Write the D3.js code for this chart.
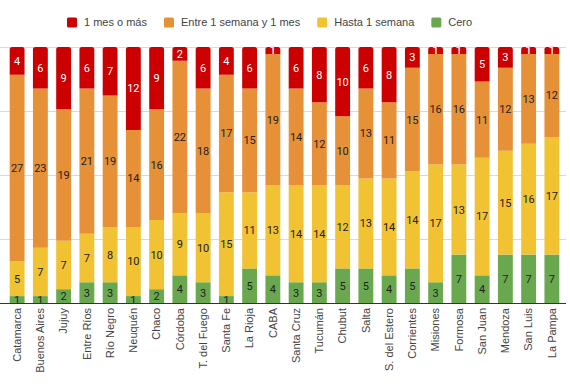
<!DOCTYPE html>
<html><head><meta charset="utf-8">
<script src="https://cdn.jsdelivr.net/npm/d3@7"></script>
<style>body{margin:0;background:#fff}svg{display:block}</style>
</head><body>
<script>
const categories = ["Catamarca","Buenos Aires","Jujuy","Entre Ríos","Río Negro","Neuquén","Chaco","Córdoba","T. del Fuego","Santa Fe","La Rioja","CABA","Santa Cruz","Tucumán","Chubut","Salta","S. del Estero","Corrientes","Misiones","Formosa","San Juan","Mendoza","San Luis","La Pampa"];
const cero    = [1,1,2,3,3,1,2,4,3,1,5,4,3,3,5,5,4,5,3,7,4,7,7,7];
const hasta   = [5,7,7,7,8,10,10,9,10,15,11,13,14,14,12,13,14,14,17,13,17,15,16,17];
const entre   = [27,23,19,21,19,14,16,22,18,17,15,19,14,12,10,13,11,15,16,16,11,12,13,12];
const unMes   = [4,6,9,6,7,12,9,2,6,4,6,1,6,8,10,6,8,3,1,1,5,3,1,1];
const seriesNames = ["Cero","Hasta 1 semana","Entre 1 semana y 1 mes","1 mes o más"];
const legendOrder = ["1 mes o más","Entre 1 semana y 1 mes","Hasta 1 semana","Cero"];
const gridTicks = [0,0.25,0.5,0.75,1];

const colors = {"Cero":"#6aa84f","Hasta 1 semana":"#f1c232","Entre 1 semana y 1 mes":"#e69138","1 mes o más":"#cc0000"};
const seriesVals = [cero,hasta,entre,unMes];

const W=570,H=392;
const svg=d3.select("body").append("svg").attr("width",W).attr("height",H);
const x=d3.scaleBand().domain(categories).range([5.5,563.5]).paddingInner(0.36).paddingOuter(0.18);
const y=d3.scaleLinear().domain([0,1]).range([303,47]);

// gridlines
svg.append("g").selectAll("line").data(gridTicks.slice(1)).join("line")
  .attr("x1",0).attr("x2",566).attr("y1",d=>Math.round(y(d))+0.5).attr("y2",d=>Math.round(y(d))+0.5)
  .attr("stroke","#d9d9d9").attr("stroke-width",1);

// stacked percent data
const rows = categories.map((c,i)=>{
  const tot = seriesVals.reduce((s,a)=>s+a[i],0);
  let acc=0;
  return seriesNames.map((n,k)=>{
    const v=seriesVals[k][i];
    const seg={cat:c,name:n,v:v,y0:acc/tot,y1:(acc+v)/tot,top:k===seriesNames.length-1};
    acc+=v; return seg;
  });
}).flat();

function segPath(d){
  const x0=x(d.cat), w=x.bandwidth(), yt=y(d.y1), yb=y(d.y0);
  if(!d.top) return `M${x0},${yb}V${yt}H${x0+w}V${yb}Z`;
  const r=Math.min(2.5,(yb-yt)/2);
  return `M${x0},${yb}V${yt+r}Q${x0},${yt} ${x0+r},${yt}H${x0+w-r}Q${x0+w},${yt} ${x0+w},${yt+r}V${yb}Z`;
}
svg.append("g").selectAll("path").data(rows).join("path")
  .attr("d",segPath).attr("fill",d=>colors[d.name]);

// segment labels
const small = d => (y(d.y0)-y(d.y1)) < 10;
svg.append("g").selectAll("text").data(rows).join("text")
  .attr("x",d=>x(d.cat)+x.bandwidth()/2)
  .attr("y",d=>(y(d.y0)+y(d.y1))/2)
  .attr("dy","0.36em").attr("text-anchor","middle")
  .attr("font-family","Roboto, Arial, sans-serif").attr("font-size",11)
  .attr("fill",d=>d.name==="1 mes o más"?"#ffffff":"#222222")
  .attr("stroke",d=>(d.name==="1 mes o más" && small(d))?"#e06060":"none")
  .attr("stroke-width",0.6).attr("paint-order","stroke")
  .text(d=>d.v);

// baseline
svg.append("line").attr("x1",0).attr("x2",566).attr("y1",303.5).attr("y2",303.5)
  .attr("stroke","#333").attr("stroke-width",1);

// x axis labels
const xa=d3.axisBottom(x).tickSize(0).tickPadding(0);
const gx=svg.append("g").attr("transform","translate(0,303)").call(xa);
gx.select(".domain").remove();
gx.selectAll("text")
  .attr("font-family","Arial, 'Liberation Sans', sans-serif").attr("font-size",11).attr("fill","#444")
  .attr("transform","rotate(-90)").attr("text-anchor","end")
  .attr("x",-5).attr("y",0).attr("dy","0.35em");

// legend
const lg=svg.append("g");
let lx=67;
legendOrder.forEach(n=>{
  lg.append("rect").attr("x",lx).attr("y",17.5).attr("width",10).attr("height",10).attr("rx",1.5).attr("fill",colors[n]);
  const t=lg.append("text").attr("x",lx+17).attr("y",22.5).attr("dy","0.35em")
    .attr("font-family","Arial, 'Liberation Sans', sans-serif").attr("font-size",11).attr("fill","#444").text(n);
  lx += 17 + t.node().getComputedTextLength() + 17;
});
</script>
</body></html>
